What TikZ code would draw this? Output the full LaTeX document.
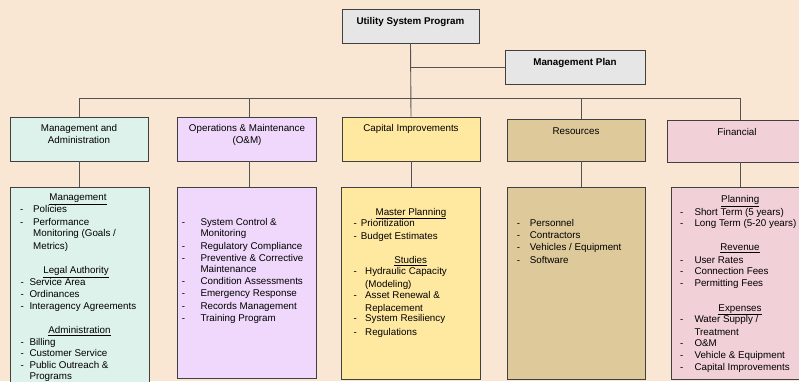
\documentclass[tikz,border=0pt]{standalone}
\usepackage{fontspec}
\setmainfont{Liberation Sans}
\definecolor{bgc}{HTML}{F9E6D3}
\definecolor{grayc}{HTML}{E6E6E6}
\definecolor{mintc}{HTML}{DEF2EC}
\definecolor{lavc}{HTML}{F0D8FC}
\definecolor{yelc}{HTML}{FFE8A0}
\definecolor{tanc}{HTML}{DEC99B}
\definecolor{pinkc}{HTML}{F1D0D7}
\definecolor{linec}{HTML}{404040}
\newcommand\myitem[5]{%
  \node[tx] (#1d) at (#2,#4+3.5) {-};
  \node[tx] (#1) at (#3,#4+3.5) {#5};}
\newcommand\myline[4]{\node[tx] (#1) at (#2,#3+3.5) {#4};}
\newcommand\myhead[4]{\node[hd] (#1) at (#2,#3+3.5) {\underline{#4}};}
\begin{document}
\begin{tikzpicture}[x=1pt,y=-1pt,
  every node/.style={font=\fontsize{9.8}{11}\selectfont},
  box/.style={draw=linec, line width=0.8pt, inner sep=0pt},
  conn/.style={draw=linec!90, line width=0.9pt},
  tx/.style={anchor=base west, inner sep=0pt},
  hd/.style={anchor=base, inner sep=0pt},
  ]
\useasboundingbox (0,0) rectangle (799,381);
\fill[bgc] (0,0) rectangle (799,381);
\clip (0,0) rectangle (799,381);

% level 0/1 boxes
\node[box, fill=grayc, minimum width=137pt, minimum height=34pt] (prog) at (410.5,26) {};
\node[box, fill=grayc, minimum width=140pt, minimum height=34pt] (plan) at (575,67) {};
\node[hd, font=\fontsize{9.8}{11}\selectfont\bfseries] (progt) at (410.5,24.5) {Utility System Program};
\node[hd, font=\fontsize{9.8}{11}\selectfont\bfseries] (plant) at (575,65.5) {Management Plan};

% level 2 boxes
\node[box, fill=mintc, minimum width=138pt, minimum height=44pt] (mga) at (79,139) {};
\node[box, fill=lavc, minimum width=139pt, minimum height=44pt] (om) at (247,139) {};
\node[box, fill=yelc, minimum width=138pt, minimum height=44pt] (cap) at (411,139) {};
\node[box, fill=tanc, minimum width=138pt, minimum height=42pt] (res) at (576,140) {};
\node[box, fill=pinkc, minimum width=146pt, minimum height=42pt] (fin) at (740,141) {};

\node[hd] (mgat1) at (79,131.5) {Management and};
\node[hd] (mgat2) at (79,143.5) {Administration};
\node[hd] (omt1) at (247,131.5) {Operations \& Maintenance};
\node[hd] (omt2) at (247,143.5) {(O\&M)};
\node[hd] (capt) at (411,131.5) {Capital Improvements};
\node[hd] (rest) at (576,134.5) {Resources};
\node[hd] (fint) at (737,135.5) {Financial};

% level 3 boxes
\node[box, fill=mintc, minimum width=139pt, minimum height=220pt, anchor=north] (mga3) at (79.5,187) {};
\node[box, fill=lavc, minimum width=139pt, minimum height=191pt, anchor=north] (om3) at (247,187) {};
\node[box, fill=yelc, minimum width=139pt, minimum height=192pt, anchor=north] (cap3) at (410.5,187) {};
\node[box, fill=tanc, minimum width=138pt, minimum height=192pt, anchor=north] (res3) at (576,187) {};
\node[box, fill=pinkc, minimum width=138pt, minimum height=192pt, anchor=north] (fin3) at (740,187) {};

% connectors
\coordinate (busy) at (0,98);
\draw[conn] (prog.south) -- (cap.north);
\draw[conn] (prog.south |- plan.west) -- (plan.west);
\draw[conn] (mga.north) -- (mga.north |- busy) -| (fin.north);
\draw[conn] ([xshift=2pt]om.north) -- ([xshift=2pt]om.north |- busy);
\draw[conn] ([xshift=5pt]res.north) -- ([xshift=5pt]res.north |- busy);
\draw[conn] (mga.south) -- (mga.south |- mga3.north);
\draw[conn] ([xshift=2pt]om.south) -- ([xshift=2pt]om.south |- om3.north);
\draw[conn] (cap.south) -- (cap.south |- cap3.north);
\draw[conn] ([xshift=5pt]res.south) -- ([xshift=5pt]res.south |- res3.north);
\draw[conn] (fin.south) -- (fin.south |- fin3.north);

% Management and Administration list
\myhead{mh1}{78}{197}{Management}
\myitem{m1}{20}{33}{209.3}{Policies}
\myitem{m2}{20}{33}{221.7}{Performance}
\myline{m3}{33}{233.3}{Monitoring (Goals /}
\myline{m4}{33}{245.7}{Metrics)}
\myhead{mh2}{76}{270}{Legal Authority}
\myitem{m5}{20.5}{29.3}{281.7}{Service Area}
\myitem{m6}{20.5}{29.3}{293.7}{Ordinances}
\myitem{m7}{20.5}{29.3}{305.7}{Interagency Agreements}
\myhead{mh3}{79.5}{330}{Administration}
\myitem{m8}{20.5}{29.3}{341.7}{Billing}
\myitem{m9}{20.5}{29.3}{353.3}{Customer Service}
\myitem{m10}{20.5}{29.3}{365.3}{Public Outreach \&}
\myline{m11}{29.3}{375.6}{Programs}

% O&M list
\myitem{o1}{181.7}{200.3}{221.7}{System Control \&}
\myline{o2}{200.3}{233.3}{Monitoring}
\myitem{o3}{181.7}{200.3}{245.7}{Regulatory Compliance}
\myitem{o4}{181.7}{200.3}{257.7}{Preventive \& Corrective}
\myline{o5}{200.3}{269.3}{Maintenance}
\myitem{o6}{181.7}{200.3}{281.3}{Condition Assessments}
\myitem{o7}{181.7}{200.3}{293.3}{Emergency Response}
\myitem{o8}{181.7}{200.3}{305.7}{Records Management}
\myitem{o9}{181.7}{200.3}{317.7}{Training Program}

% Capital list
\myhead{ch1}{411}{211.7}{Master Planning}
\myitem{c1}{353.3}{360.7}{222.7}{Prioritization}
\myitem{c2}{353.3}{360.7}{235.7}{Budget Estimates}
\myhead{ch2}{410.7}{260}{Studies}
\myitem{c3}{353.3}{365}{270.7}{Hydraulic Capacity}
\myline{c4}{365}{284}{(Modeling)}
\myitem{c5}{353.3}{365}{295}{Asset Renewal \&}
\myline{c6}{365}{307.7}{Replacement}
\myitem{c7}{353.3}{365}{318.3}{System Resiliency}
\myitem{c8}{353.3}{365}{331.7}{Regulations}

% Resources list
\myitem{r1}{516.7}{529.7}{222.7}{Personnel}
\myitem{r2}{516.7}{529.7}{235}{Contractors}
\myitem{r3}{516.7}{529.7}{246.7}{Vehicles / Equipment}
\myitem{r4}{516.7}{529.7}{260}{Software}

% Financial list
\myhead{fh1}{740.3}{199}{Planning}
\myitem{f1}{680}{694.3}{212.3}{Short Term (5 years)}
\myitem{f2}{680}{694.3}{223.3}{Long Term (5-20 years)}
\myhead{fh2}{740}{246.7}{Revenue}
\myitem{f3}{680}{694.3}{260}{User Rates}
\myitem{f4}{680}{694.3}{270.7}{Connection Fees}
\myitem{f5}{680}{694.3}{283.3}{Permitting Fees}
\myhead{fh3}{740}{307.7}{Expenses}
\myitem{f6}{680}{694.3}{319.3}{Water Supply /}
\myline{f7}{694.3}{331.7}{Treatment}
\myitem{f8}{680}{694.3}{343.3}{O\&M}
\myitem{f9}{680}{694.3}{355}{Vehicle \& Equipment}
\myitem{f10}{680}{694.3}{366.7}{Capital Improvements}
\end{tikzpicture}
\end{document}
